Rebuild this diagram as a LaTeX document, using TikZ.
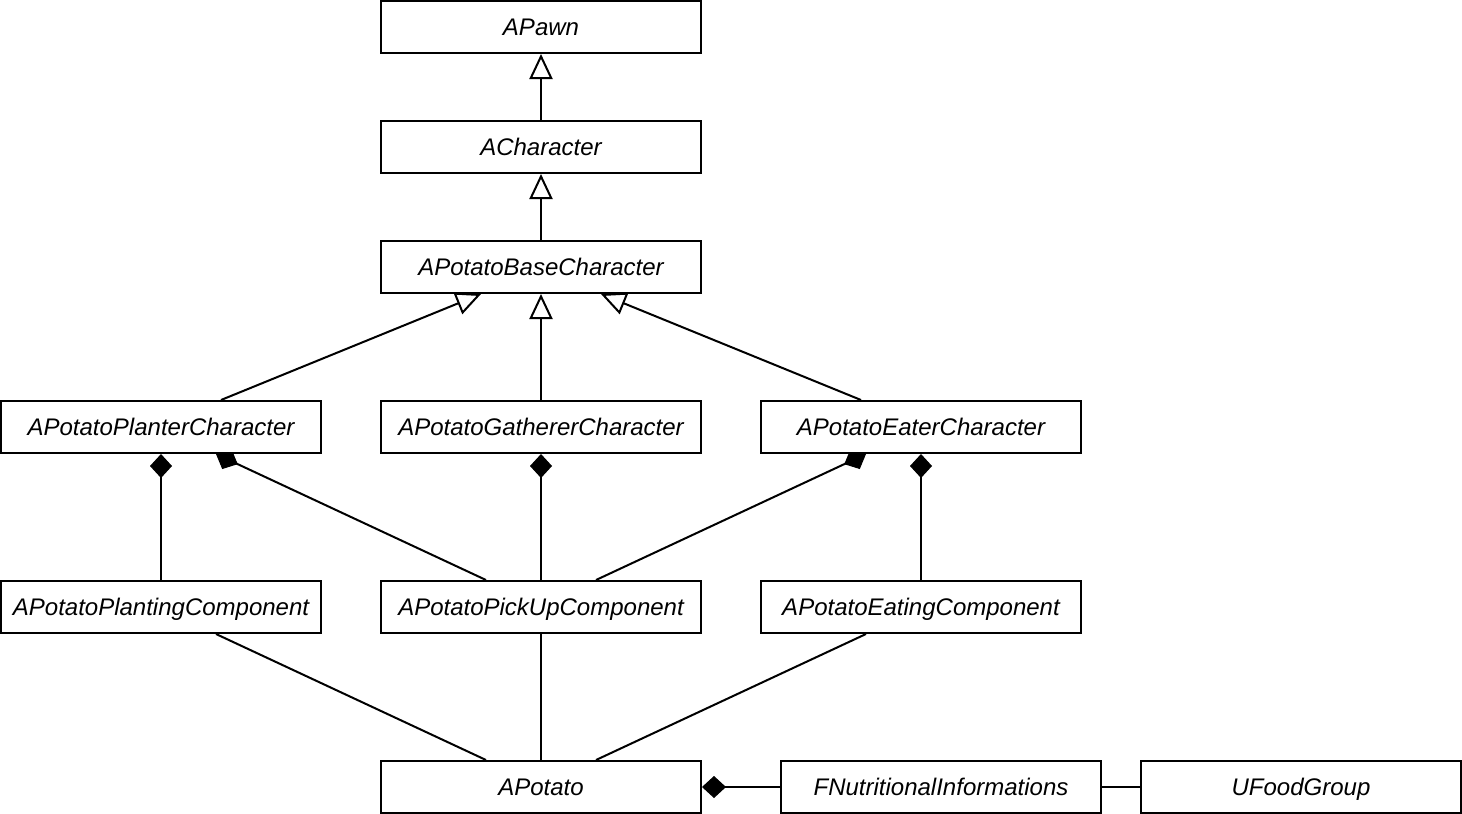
\documentclass[tikz,border=0pt]{standalone}
\usepackage{fontspec}
\setmainfont{Liberation Sans}
\usetikzlibrary{arrows.meta,calc,backgrounds}
\begin{document}
\begin{tikzpicture}[x=1pt,y=-1pt,
  cls/.style={draw=black, fill=white, line width=2pt, minimum width=320pt, minimum height=52pt,
    inner sep=0pt, text height=18.5pt, text depth=1.5pt, font=\fontsize{24pt}{28pt}\selectfont\itshape},
  edge/.style={line width=2pt},
  inh/.style={edge, -{Triangle[open, length=25pt, width=23pt, line width=2pt]}},
  comp/.style={edge, -{Diamond[length=24pt, width=22pt, line width=1pt]}}]
\useasboundingbox (0,0) rectangle (1462,814);
\node[cls] (pawn) at (541,27) {APawn};
\node[cls] (char) at (541,147) {ACharacter};
\node[cls] (base) at (541,267) {APotatoBaseCharacter};
\node[cls] (planter) at (161,427) {APotatoPlanterCharacter};
\node[cls] (gatherer) at (541,427) {APotatoGathererCharacter};
\node[cls] (eater) at (921,427) {APotatoEaterCharacter};
\node[cls] (planting) at (161,607) {APotatoPlantingComponent};
\node[cls] (pickup) at (541,607) {APotatoPickUpComponent};
\node[cls] (eating) at (921,607) {APotatoEatingComponent};
\node[cls] (potato) at (541,787) {APotato};
\node[cls] (nutri) at (941,787) {FNutritionalInformations};
\node[cls] (food) at (1301,787) {UFoodGroup};
\begin{scope}[on background layer]
\draw[inh] (char.north) -- (pawn.south);
\draw[inh] (base.north) -- (char.south);
\draw[inh] (gatherer.north) -- (base.south);
\draw[inh] ($(planter.north)+(60,0)$) -- ($(base.south)+(-60,0)$);
\draw[inh] ($(eater.north)+(-60,0)$) -- ($(base.south)+(60,0)$);
\draw[comp] (planting.north) -- (planter.south);
\draw[comp] ($(pickup.north)+(-55,0)$) -- ($(planter.south)+(55,0)$);
\draw[comp] (pickup.north) -- (gatherer.south);
\draw[comp] ($(pickup.north)+(55,0)$) -- ($(eater.south)+(-55,0)$);
\draw[comp] (eating.north) -- (eater.south);
\draw[edge] ($(planting.south)+(55,0)$) -- ($(potato.north)+(-55,0)$);
\draw[edge] (pickup.south) -- (potato.north);
\draw[edge] ($(eating.south)+(-55,0)$) -- ($(potato.north)+(55,0)$);
\draw[comp] (nutri.west) -- (potato.east);
\draw[edge] (nutri.east) -- (food.west);
\end{scope}
\end{tikzpicture}
\end{document}
